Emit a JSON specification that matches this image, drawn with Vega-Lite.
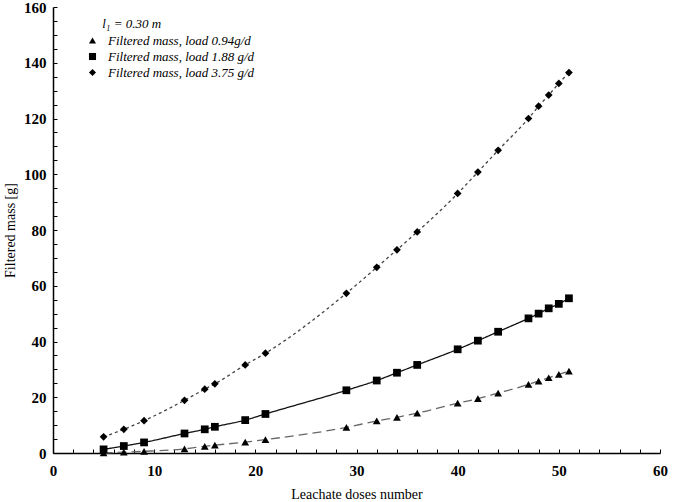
{
  "$schema": "https://vega.github.io/schema/vega-lite/v6.json",
  "width": 607,
  "height": 446,
  "autosize": {"type": "none"},
  "padding": {"left": 53, "top": 7, "right": 25, "bottom": 49},
  "background": "white",
  "config": {"view": {"stroke": null}},
  "resolve": {"legend": {"shape": "independent", "color": "independent", "strokeDash": "independent"}},
  "data": {"values": [
    {"x": 5, "y": 0.0, "s": "Filtered mass, load 0.94g/d"},
    {"x": 7, "y": 0.3, "s": "Filtered mass, load 0.94g/d"},
    {"x": 9, "y": 0.6, "s": "Filtered mass, load 0.94g/d"},
    {"x": 13, "y": 1.5, "s": "Filtered mass, load 0.94g/d"},
    {"x": 15, "y": 2.4, "s": "Filtered mass, load 0.94g/d"},
    {"x": 16, "y": 2.8, "s": "Filtered mass, load 0.94g/d"},
    {"x": 19, "y": 3.9, "s": "Filtered mass, load 0.94g/d"},
    {"x": 21, "y": 4.8, "s": "Filtered mass, load 0.94g/d"},
    {"x": 29, "y": 9.2, "s": "Filtered mass, load 0.94g/d"},
    {"x": 32, "y": 11.5, "s": "Filtered mass, load 0.94g/d"},
    {"x": 34, "y": 12.8, "s": "Filtered mass, load 0.94g/d"},
    {"x": 36, "y": 14.3, "s": "Filtered mass, load 0.94g/d"},
    {"x": 40, "y": 17.9, "s": "Filtered mass, load 0.94g/d"},
    {"x": 42, "y": 19.5, "s": "Filtered mass, load 0.94g/d"},
    {"x": 44, "y": 21.5, "s": "Filtered mass, load 0.94g/d"},
    {"x": 47, "y": 24.6, "s": "Filtered mass, load 0.94g/d"},
    {"x": 48, "y": 25.8, "s": "Filtered mass, load 0.94g/d"},
    {"x": 49, "y": 27.0, "s": "Filtered mass, load 0.94g/d"},
    {"x": 50, "y": 28.2, "s": "Filtered mass, load 0.94g/d"},
    {"x": 51, "y": 29.4, "s": "Filtered mass, load 0.94g/d"},
    {"x": 5, "y": 1.3, "s": "Filtered mass, load 1.88 g/d"},
    {"x": 7, "y": 2.5, "s": "Filtered mass, load 1.88 g/d"},
    {"x": 9, "y": 3.8, "s": "Filtered mass, load 1.88 g/d"},
    {"x": 13, "y": 7.0, "s": "Filtered mass, load 1.88 g/d"},
    {"x": 15, "y": 8.5, "s": "Filtered mass, load 1.88 g/d"},
    {"x": 16, "y": 9.4, "s": "Filtered mass, load 1.88 g/d"},
    {"x": 19, "y": 11.8, "s": "Filtered mass, load 1.88 g/d"},
    {"x": 21, "y": 14.0, "s": "Filtered mass, load 1.88 g/d"},
    {"x": 29, "y": 22.5, "s": "Filtered mass, load 1.88 g/d"},
    {"x": 32, "y": 26.0, "s": "Filtered mass, load 1.88 g/d"},
    {"x": 34, "y": 28.8, "s": "Filtered mass, load 1.88 g/d"},
    {"x": 36, "y": 31.6, "s": "Filtered mass, load 1.88 g/d"},
    {"x": 40, "y": 37.2, "s": "Filtered mass, load 1.88 g/d"},
    {"x": 42, "y": 40.3, "s": "Filtered mass, load 1.88 g/d"},
    {"x": 44, "y": 43.5, "s": "Filtered mass, load 1.88 g/d"},
    {"x": 47, "y": 48.3, "s": "Filtered mass, load 1.88 g/d"},
    {"x": 48, "y": 50.0, "s": "Filtered mass, load 1.88 g/d"},
    {"x": 49, "y": 51.9, "s": "Filtered mass, load 1.88 g/d"},
    {"x": 50, "y": 53.5, "s": "Filtered mass, load 1.88 g/d"},
    {"x": 51, "y": 55.5, "s": "Filtered mass, load 1.88 g/d"},
    {"x": 5, "y": 5.8, "s": "Filtered mass, load 3.75 g/d"},
    {"x": 7, "y": 8.5, "s": "Filtered mass, load 3.75 g/d"},
    {"x": 9, "y": 11.6, "s": "Filtered mass, load 3.75 g/d"},
    {"x": 13, "y": 18.9, "s": "Filtered mass, load 3.75 g/d"},
    {"x": 15, "y": 22.9, "s": "Filtered mass, load 3.75 g/d"},
    {"x": 16, "y": 24.8, "s": "Filtered mass, load 3.75 g/d"},
    {"x": 19, "y": 31.6, "s": "Filtered mass, load 3.75 g/d"},
    {"x": 21, "y": 35.8, "s": "Filtered mass, load 3.75 g/d"},
    {"x": 29, "y": 57.3, "s": "Filtered mass, load 3.75 g/d"},
    {"x": 32, "y": 66.6, "s": "Filtered mass, load 3.75 g/d"},
    {"x": 34, "y": 72.9, "s": "Filtered mass, load 3.75 g/d"},
    {"x": 36, "y": 79.3, "s": "Filtered mass, load 3.75 g/d"},
    {"x": 40, "y": 93.1, "s": "Filtered mass, load 3.75 g/d"},
    {"x": 42, "y": 100.8, "s": "Filtered mass, load 3.75 g/d"},
    {"x": 44, "y": 108.6, "s": "Filtered mass, load 3.75 g/d"},
    {"x": 47, "y": 120.0, "s": "Filtered mass, load 3.75 g/d"},
    {"x": 48, "y": 124.4, "s": "Filtered mass, load 3.75 g/d"},
    {"x": 49, "y": 128.4, "s": "Filtered mass, load 3.75 g/d"},
    {"x": 50, "y": 132.6, "s": "Filtered mass, load 3.75 g/d"},
    {"x": 51, "y": 136.5, "s": "Filtered mass, load 3.75 g/d"}
  ]},
  "encoding": {
    "x": {
      "field": "x", "type": "quantitative",
      "scale": {"domain": [0, 60], "nice": false, "zero": false},
      "axis": {
        "title": "Leachate doses number",
        "values": [0,2,4,6,8,10,12,14,16,18,20,22,24,26,28,30,32,34,36,38,40,42,44,46,48,50,52,54,56,58,60],
        "labelExpr": "datum.value % 10 === 0 ? datum.label : ''",
        "grid": false,
        "domainColor": "#000", "domainWidth": 1.5,
        "tickColor": "#000", "tickWidth": 1,
        "tickSize": -4,
        "labelPadding": 14,
        "labelFont": "Liberation Serif", "labelFontWeight": "bold", "labelFontSize": 15, "labelColor": "#000",
        "labelFlush": false, "labelOverlap": false,
        "titleFont": "Liberation Serif", "titleFontWeight": "normal", "titleFontSize": 14, "titleColor": "#000",
        "titlePadding": 9
      }
    },
    "y": {
      "field": "y", "type": "quantitative",
      "scale": {"domain": [0, 160], "nice": false},
      "axis": {
        "title": "Filtered mass [g]",
        "values": [0,5,10,15,20,25,30,35,40,45,50,55,60,65,70,75,80,85,90,95,100,105,110,115,120,125,130,135,140,145,150,155,160],
        "labelExpr": "datum.value % 20 === 0 ? datum.label : ''",
        "grid": false,
        "domainColor": "#000", "domainWidth": 1.5,
        "tickColor": "#000", "tickWidth": 1,
        "tickSize": -4,
        "labelPadding": 11,
        "labelFont": "Liberation Serif", "labelFontWeight": "bold", "labelFontSize": 15, "labelColor": "#000",
        "labelFlush": false, "labelOverlap": false,
        "titleFont": "Liberation Serif", "titleFontWeight": "normal", "titleFontSize": 14, "titleColor": "#000",
        "titlePadding": 6
      }
    }
  },
  "layer": [
    {
      "mark": {"type": "line", "interpolate": "monotone", "strokeWidth": 1.3},
      "encoding": {
        "detail": {"field": "s"},
        "color": {"field": "s", "type": "nominal", "legend": null,
          "scale": {"domain": ["Filtered mass, load 0.94g/d", "Filtered mass, load 1.88 g/d", "Filtered mass, load 3.75 g/d"], "range": ["#666666", "#111111", "#444444"]}},
        "strokeDash": {"field": "s", "type": "nominal", "legend": null,
          "scale": {"domain": ["Filtered mass, load 0.94g/d", "Filtered mass, load 1.88 g/d", "Filtered mass, load 3.75 g/d"], "range": [[9, 5], [1, 0], [3, 3]]}}
      }
    },
    {
      "mark": {"type": "point", "filled": true, "color": "#000", "opacity": 1, "size": 60},
      "encoding": {
        "shape": {"field": "s", "type": "nominal",
          "scale": {"domain": ["Filtered mass, load 0.94g/d", "Filtered mass, load 1.88 g/d", "Filtered mass, load 3.75 g/d"], "range": ["triangle-up", "square", "diamond"]},
          "legend": {
            "title": "\u200b\u00a0\u00a0\u00a0\u00a0\u00a0l₁ = 0.30 m",
            "orient": "none", "legendX": 33, "legendY": 11,
            "titleFont": "Liberation Serif", "titleFontStyle": "italic", "titleFontWeight": "normal", "titleFontSize": 13, "titleColor": "#000", "titlePadding": 3,
            "labelFont": "Liberation Serif", "labelFontStyle": "italic", "labelFontSize": 13, "labelColor": "#000",
            "symbolFillColor": "#000", "symbolStrokeColor": "#000", "symbolSize": 50, "rowPadding": 1, "labelOffset": 9
          }
        }
      }
    }
  ]
}
